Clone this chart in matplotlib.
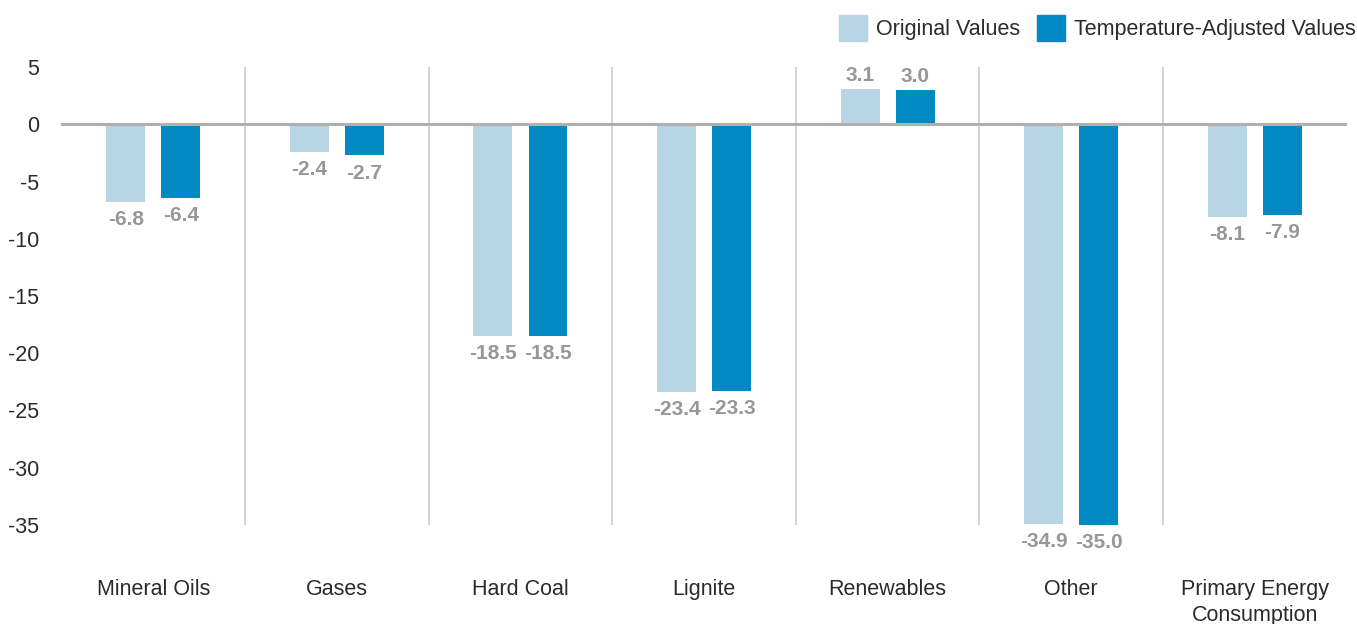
import numpy as np
import matplotlib.pyplot as plt
from matplotlib.patches import Patch

plt.rcParams['font.family'] = ['Liberation Sans', 'DejaVu Sans']

categories = ['Mineral Oils', 'Gases', 'Hard Coal', 'Lignite', 'Renewables',
              'Other', 'Primary Energy\nConsumption']
original = [-6.8, -2.4, -18.5, -23.4, 3.1, -34.9, -8.1]
adjusted = [-6.4, -2.7, -18.5, -23.3, 3.0, -35.0, -7.9]
series_names = ['Original Values', 'Temperature-Adjusted Values']
yticks = [5, 0, -5, -10, -15, -20, -25, -30, -35]

light = '#b7d5e5'
dark = '#0089c2'
label_grey = '#979797'
text_col = '#2b2b2b'

fig = plt.figure(figsize=(13.57, 6.24), dpi=100)
ax = fig.add_axes([0.0453, 0.1587, 0.947, 0.7339])

x = np.arange(len(categories))
w = 0.212
off = 0.15

for xs, vals, col in [(x - off, original, light), (x + off, adjusted, dark)]:
    bars = ax.bar(xs, vals, width=w, color=col, clip_on=False, zorder=2)
    for b, v in zip(bars, vals):
        if v < 0:
            ax.annotate(f'{v:.1f}', (b.get_x() + b.get_width() / 2, v),
                        xytext=(0, -6), textcoords='offset points',
                        ha='center', va='top', fontsize=15,
                        fontweight='bold', color=label_grey)
        else:
            ax.annotate(f'{v:.1f}', (b.get_x() + b.get_width() / 2, v),
                        xytext=(0, 3), textcoords='offset points',
                        ha='center', va='bottom', fontsize=15,
                        fontweight='bold', color=label_grey)

# separators between categories and the zero line
for s in x[:-1] + 0.5:
    ax.axvline(s, color='#cccccc', lw=1.2, zorder=1)
ax.axhline(0, color='#b0b0b0', lw=2.2, zorder=3)

ax.set_xlim(-0.5, len(categories) - 0.5)
ax.set_ylim(-35, 5)
ax.set_yticks(yticks)
ax.set_yticklabels([str(t) for t in yticks])
ax.set_xticks(x)
ax.set_xticklabels(categories, linespacing=1.3)
ax.tick_params(axis='y', length=0, pad=16, labelsize=15.5, labelcolor=text_col)
ax.tick_params(axis='x', length=0, pad=39, labelsize=15.5, labelcolor=text_col)
for sp in ax.spines.values():
    sp.set_visible(False)

handles = [Patch(color=light), Patch(color=dark)]
fig.legend(handles, series_names, loc='upper right',
           bbox_to_anchor=(0.999, 0.976), frameon=False, fontsize=15.5,
           ncol=2, handlelength=1.3, handleheight=1.45, handletextpad=0.4,
           columnspacing=0.8, borderpad=0, borderaxespad=0,
           labelcolor=text_col)

fig.savefig('out.png', dpi=100)
